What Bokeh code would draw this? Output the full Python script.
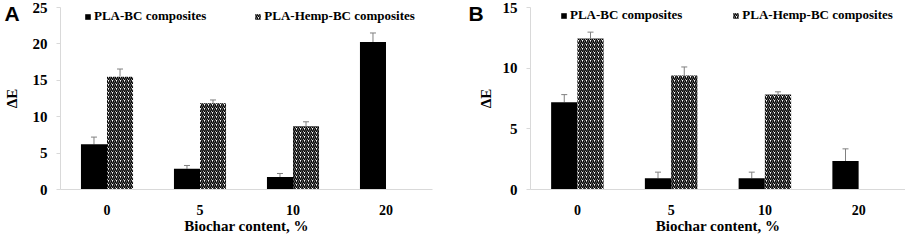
from bokeh.plotting import figure
from bokeh.models import (ColumnDataSource, FactorRange, Range1d, Whisker, TeeHead,
                          Legend, LegendItem, FixedTicker)
from bokeh.transform import dodge
from bokeh.layouts import row
from bokeh.embed import file_html
from bokeh.resources import INLINE

nan = float("nan")

# Biochar content categories (%)
contents = ["0", "5", "10", "20"]

# Panel A: colour change ΔE
a_pla = [6.2, 2.85, 1.7, 20.25]
a_pla_err = [1.0, 0.45, 0.5, 1.25]
a_hemp = [15.5, 11.85, 8.7, nan]
a_hemp_err = [1.05, 0.45, 0.6, nan]

# Panel B: colour change ΔE
b_pla = [7.2, 0.93, 0.93, 2.35]
b_pla_err = [0.62, 0.5, 0.5, 1.0]
b_hemp = [12.45, 9.4, 7.83, nan]
b_hemp_err = [0.52, 0.7, 0.22, nan]

a_ticks = [0, 5, 10, 15, 20, 25]
b_ticks = [0, 5, 10, 15]

SERIF = "Liberation Serif"
AXIS_GREY = "#d9d9d9"
ERR_GREY = "#808080"
H = 236
TOP = 7


def panel(letter, pla, pla_err, hemp, hemp_err, ymax, ticks, width,
          bl, br, frame_bottom, legend_x, legend_spacing, letter_offset, de_standoff):
    src = ColumnDataSource(dict(
        x=contents, pla=pla, hemp=hemp,
        pla_up=[v + e for v, e in zip(pla, pla_err)],
        hemp_up=[v + e for v, e in zip(hemp, hemp_err)],
    ))
    p = figure(x_range=FactorRange(*contents), y_range=Range1d(0, ymax),
               width=width, height=H, min_border_left=bl, min_border_right=br,
               min_border_top=TOP, min_border_bottom=H - frame_bottom,
               output_backend="svg", toolbar_location=None)
    p.outline_line_color = None
    p.xgrid.grid_line_color = None
    p.ygrid.grid_line_color = None
    p.background_fill_color = "white"

    # panel letter as the plot title, pulled into the top-left corner
    p.title.text = letter
    p.title.align = "left"
    p.title.offset = letter_offset
    p.title.standoff = -34
    p.title.vertical_align = "bottom"
    p.title.text_font = "Liberation Sans"
    p.title.text_font_style = "bold"
    p.title.text_font_size = "21px"
    p.title.text_color = "black"

    r1 = p.vbar(x=dodge("x", -0.14, range=p.x_range), top="pla", width=0.28,
                source=src, fill_color="black", line_color=None)
    r2 = p.vbar(x=dodge("x", 0.14, range=p.x_range), top="hemp", width=0.28,
                source=src, fill_color="white", line_color=None,
                hatch_pattern="/", hatch_color="black", hatch_scale=4,
                hatch_weight=1.5)

    for off, lo, up in ((-0.14, "pla", "pla_up"), (0.14, "hemp", "hemp_up")):
        w = Whisker(source=src, base=dodge("x", off, range=p.x_range),
                    lower=lo, upper=up, line_color=ERR_GREY, line_width=1,
                    upper_head=TeeHead(size=6, line_color=ERR_GREY, line_width=1),
                    lower_head=None)
        p.add_layout(w)

    # axes
    p.yaxis.ticker = FixedTicker(ticks=ticks)
    p.yaxis.minor_tick_line_color = None
    p.yaxis.major_tick_in = 0
    p.yaxis.major_tick_out = 4
    p.yaxis.major_tick_line_color = AXIS_GREY
    p.yaxis.axis_line_color = AXIS_GREY
    p.yaxis.major_label_standoff = 9
    p.yaxis.axis_label = "ΔE"
    p.yaxis.axis_label_standoff = de_standoff
    p.xaxis.major_tick_line_color = None
    p.xaxis.axis_line_color = AXIS_GREY
    p.xaxis.major_label_standoff = 9
    for ax in (p.xaxis[0], p.yaxis[0]):
        ax.major_label_text_font = SERIF
        ax.major_label_text_font_style = "bold"
        ax.major_label_text_font_size = "15px"
        ax.major_label_text_color = "black"
        ax.axis_label_text_font = SERIF
        ax.axis_label_text_font_style = "bold"
        ax.axis_label_text_font_size = "15px"
        ax.axis_label_text_color = "black"
    p.xaxis.major_label_text_font_size = "14px"
    p.xaxis.axis_label = "Biochar content, %"
    p.xaxis.axis_label_standoff = 0

    legend = Legend(items=[LegendItem(label="PLA-BC composites", renderers=[r1]),
                           LegendItem(label="PLA-Hemp-BC composites", renderers=[r2])],
                    orientation="horizontal",
                    location=(legend_x, frame_bottom - TOP - 20),
                    glyph_width=7, glyph_height=7, label_height=12,
                    label_standoff=3, spacing=legend_spacing, padding=0, margin=0,
                    border_line_color=None, background_fill_alpha=0,
                    label_text_font=SERIF, label_text_font_style="bold",
                    label_text_font_size="13px", label_text_color="black")
    p.add_layout(legend, "center")
    return p


pA = panel("A", a_pla, a_pla_err, a_hemp, a_hemp_err, 25, a_ticks, 454,
           58, 22, 192, 24, 48, -56, 10)
pB = panel("B", b_pla, b_pla_err, b_hemp, b_hemp_err, 15, b_ticks, 451,
           76, 0, 193, 30, 50, -62, 6)

layout = row(pA, pB)
open("out.html", "w").write(file_html(layout, INLINE))
